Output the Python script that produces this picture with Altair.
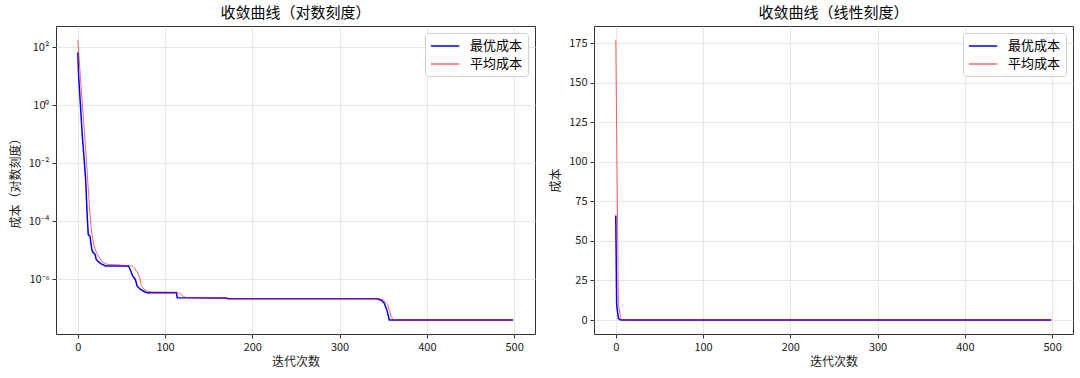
import altair as alt
import pandas as pd

FONT = "Noto Sans CJK SC"

series_names = ["最优成本", "平均成本"]

iter_best = [0, 1, 3, 5, 7, 9, 11, 12, 14, 16, 17, 20, 21, 22, 24, 26, 28, 32, 58, 60,
             63, 66, 68, 72, 75, 79, 113, 114, 170, 172, 343, 348, 351, 354, 357, 499]
cost_best = [66, 10, 1.1, 0.11, 0.018, 2.8e-3, 1.2e-4, 3.5e-5, 3.1e-5, 1.1e-5,
             9e-6, 7.2e-6, 5e-6, 4.6e-6, 4e-6, 3.6e-6, 3.3e-6, 2.9e-6, 2.9e-6, 2.2e-6,
             1.3e-6, 1.0e-6, 5.9e-7, 4.5e-7, 4.0e-7, 3.5e-7, 3.5e-7, 2.35e-7, 2.3e-7, 2.15e-7,
             2.15e-7, 1.9e-7, 1.55e-7, 9.3e-8, 4.0e-8, 4.0e-8]

iter_mean = [0, 3, 6, 9, 11, 13, 15, 16, 18, 20, 23, 26, 30, 34, 44, 62, 65, 67, 69, 71,
             73, 76, 79, 85, 113, 117, 121, 125, 170, 175, 345, 350, 355, 359, 361, 364, 499]
cost_mean = [177, 9.8, 0.54, 0.032, 4e-3, 4.5e-4, 8e-5, 4e-5, 1.8e-5, 1.07e-5,
             6.8e-6, 4.9e-6, 3.7e-6, 3.3e-6, 3.2e-6, 2.9e-6, 2.5e-6, 1.95e-6, 1.6e-6, 1.15e-6,
             5.9e-7, 4.6e-7, 4.0e-7, 3.7e-7, 3.6e-7, 3.3e-7, 2.6e-7, 2.35e-7, 2.3e-7, 2.2e-7,
             2.2e-7, 2.0e-7, 1.4e-7, 5.4e-8, 4.2e-8, 4.0e-8, 4.0e-8]

x_ticks = [0, 100, 200, 300, 400, 500]
log_ticks = [1e2, 1e0, 1e-2, 1e-4, 1e-6]
lin_ticks = [0, 25, 50, 75, 100, 125, 150, 175]

df = pd.concat([
    pd.DataFrame({"iter": iter_best, "cost": cost_best, "series": series_names[0]}),
    pd.DataFrame({"iter": iter_mean, "cost": cost_mean, "series": series_names[1]}),
], ignore_index=True)

sup_expr = ("'10' + replace(replace(replace(replace(replace(replace("
            "'' + round(log(datum.value)/LN10), '-', '⁻'), '2', '²'), '4', '⁴'), "
            "'6', '⁶'), '0', '⁰'), '8', '⁸')")


def panel(title, ytitle, log):
    x = alt.X("iter:Q",
              scale=alt.Scale(domain=[-24.95, 523.95], nice=False, zero=False),
              axis=alt.Axis(values=x_ticks, title="迭代次数", format="d"))
    if log:
        y = alt.Y("cost:Q",
                  scale=alt.Scale(type="log", domain=[1.32e-8, 537], nice=False),
                  axis=alt.Axis(values=log_ticks, title=ytitle, labelExpr=sup_expr))
    else:
        y = alt.Y("cost:Q",
                  scale=alt.Scale(domain=[-8.85, 185.85], nice=False, zero=False),
                  axis=alt.Axis(values=lin_ticks, title=ytitle, format="d"))
    color = alt.Color("series:N",
                      scale=alt.Scale(domain=series_names,
                                      range=["#0000ff", "rgba(255,0,0,0.6)"]),
                      legend=alt.Legend(title=None, orient="top-right", offset=7,
                                        fillColor="white", strokeColor="#d0d0d0",
                                        cornerRadius=3, padding=5,
                                        symbolType="M-1,0L3,0", symbolSize=200,
                                        symbolStrokeWidth=1.5, labelFontSize=13,
                                        labelFont=FONT, rowPadding=3, labelOffset=24))
    base = alt.Chart(df)
    l1 = base.transform_filter(alt.datum.series == series_names[0]).mark_line(
        strokeWidth=1.5).encode(x=x, y=y, color=color, order="iter:Q")
    l2 = base.transform_filter(alt.datum.series == series_names[1]).mark_line(
        strokeWidth=1).encode(x=x, y=y, color=color, order="iter:Q")
    return alt.layer(l1, l2).properties(
        width=479, height=308,
        title=alt.Title(title, font=FONT, fontSize=15, fontWeight="normal", offset=5))


left = panel("收敛曲线（对数刻度）", "成本（对数刻度）", True)
right = panel("收敛曲线（线性刻度）", "成本", False)

chart = alt.hconcat(left, right, spacing=13).resolve_scale(
    color="independent"
).resolve_legend(
    color="independent"
).properties(
    padding={"left": 8, "top": 5, "right": 5, "bottom": 5}
).configure_view(
    stroke="#333333", strokeWidth=1
).configure_axis(
    labelFont=FONT, titleFont=FONT, labelFontSize=11, titleFontSize=12,
    titleFontWeight="normal", labelColor="#222", titleColor="#222",
    domain=False, tickColor="#333", tickSize=4,
    gridColor="#e6e6e6", gridWidth=1, labelPadding=3,
).configure_axisY(titlePadding=6)

chart.save("out.html", embed_options={"renderer": "svg", "actions": False})
